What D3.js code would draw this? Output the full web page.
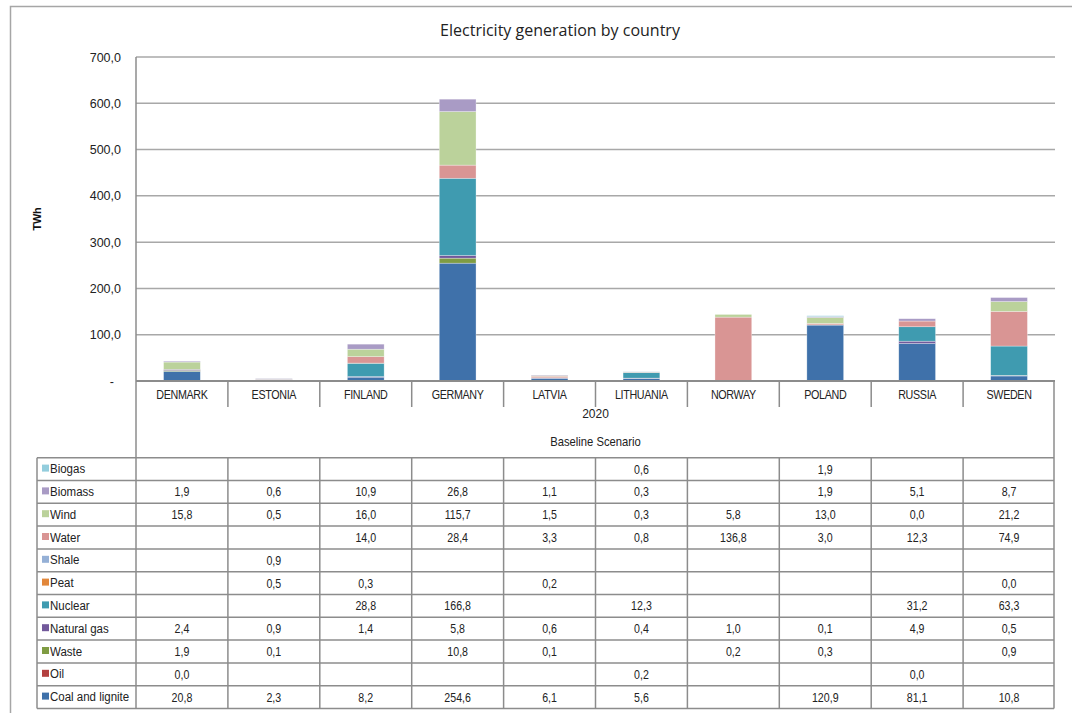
<!DOCTYPE html>
<html><head><meta charset="utf-8">
<script src="https://cdn.jsdelivr.net/npm/d3@7"></script>
<style>body{margin:0;background:#fff}svg{display:block}</style>
</head><body><svg id="c" width="1072" height="713"></svg>
<script>
const countries = ["DENMARK","ESTONIA","FINLAND","GERMANY","LATVIA","LITHUANIA","NORWAY","POLAND","RUSSIA","SWEDEN"];
// table order (top to bottom); stacking is bottom-up in reverse
const sources = ["Biogas","Biomass","Wind","Water","Shale","Peat","Nuclear","Natural gas","Waste","Oil","Coal and lignite"];
const colors = ["#93CDDD","#A99BC5","#BBD29B","#D99594","#95B0D6","#E2873A","#3F9BB0","#72599B","#7F9C43","#B3403F","#3F71AA"];
// null = empty cell
const biogas   = [null,null,null,null,null,0.6,null,1.9,null,null];
const biomass  = [1.9,0.6,10.9,26.8,1.1,0.3,null,1.9,5.1,8.7];
const wind     = [15.8,0.5,16.0,115.7,1.5,0.3,5.8,13.0,0.0,21.2];
const water    = [null,null,14.0,28.4,3.3,0.8,136.8,3.0,12.3,74.9];
const shale    = [null,0.9,null,null,null,null,null,null,null,null];
const peat     = [null,0.5,0.3,null,0.2,null,null,null,null,0.0];
const nuclear  = [null,null,28.8,166.8,null,12.3,null,null,31.2,63.3];
const natgas   = [2.4,0.9,1.4,5.8,0.6,0.4,1.0,0.1,4.9,0.5];
const waste    = [1.9,0.1,null,10.8,0.1,null,0.2,0.3,null,0.9];
const oil      = [0.0,null,null,null,null,0.2,null,null,0.0,null];
const coal     = [20.8,2.3,8.2,254.6,6.1,5.6,null,120.9,81.1,10.8];
const seriesValues = [biogas,biomass,wind,water,shale,peat,nuclear,natgas,waste,oil,coal];
const yTicks = [0,100,200,300,400,500,600,700];
const title = "Electricity generation by country";
const yLabel = "TWh";
const yearLabel = "2020";
const scenarioLabel = "Baseline Scenario";

const svg = d3.select("#c");
const L = 136, R = 1055, T = 57, B = 381;
const fmt = v => v.toFixed(1).replace(".", ",");
const font = "'Liberation Sans', Arial, sans-serif";

// outer border (clipped at right/bottom like reference)
svg.append("rect").attr("x",10.5).attr("y",6.5).attr("width",1080).attr("height",720)
  .attr("fill","none").attr("stroke","#a6a6a6").attr("stroke-width",1.5);

const x = d3.scaleBand().domain(countries).range([L,R]).paddingInner(0.6).paddingOuter(0.3);
const y = d3.scaleLinear().domain([0,700]).range([B,T]);

// gridlines
svg.append("g").selectAll("line").data(yTicks.filter(t=>t>0)).join("line")
  .attr("x1",L).attr("x2",R).attr("y1",d=>y(d)).attr("y2",d=>y(d))
  .attr("stroke","#a8a8a8").attr("stroke-width",1.5);

// y axis labels
const yAxis = d3.axisLeft(y).tickValues(yTicks).tickSize(0).tickPadding(15)
  .tickFormat(d => d===0 ? "-" : fmt(d));
const ya = svg.append("g").attr("transform",`translate(${L},0)`).call(yAxis);
ya.select(".domain").remove();
ya.selectAll("text").attr("font-family",font).attr("font-size",12.5).attr("fill","#222");
ya.selectAll(".tick").filter(d=>d===0).select("text").attr("dx",-7);

// stacked bars
const stackKeys = sources.slice().reverse();
const rows = countries.map((c,i)=>{
  const o = {country:c};
  sources.forEach((s,j)=>{ o[s] = seriesValues[j][i] || 0; });
  return o;
});
const stack = d3.stack().keys(stackKeys)(rows);
const colorOf = d3.scaleOrdinal().domain(sources).range(colors);
svg.append("g").selectAll("g").data(stack).join("g")
  .attr("fill",d=>colorOf(d.key))
  .selectAll("rect").data(d=>d).join("rect")
  .attr("x",d=>x(d.data.country)).attr("width",x.bandwidth())
  .attr("y",d=>y(d[1])).attr("height",d=>Math.max(0,y(d[0])-y(d[1])))
  .attr("stroke","#fff").attr("stroke-opacity",0.5).attr("stroke-width",0.6);

// axis frame
svg.append("line").attr("x1",L).attr("x2",L).attr("y1",T).attr("y2",B).attr("stroke","#8c8c8c").attr("stroke-width",1.5);

// title
svg.append("text").attr("x",560).attr("y",36).attr("text-anchor","middle")
  .attr("font-family","'Open Sans', sans-serif").attr("font-size",16).attr("fill","#222").text(title);
// y label
svg.append("text").attr("transform","translate(41,219) rotate(-90)").attr("text-anchor","middle")
  .attr("font-family",font).attr("font-size",11).attr("font-weight","bold").attr("letter-spacing",-0.3).attr("fill","#111").text(yLabel);

// table
const tbl = svg.append("g");
const gray = "#8c8c8c";
const TL = 37, rowTop = 457.7, rowH = 22.8;
const step = x.step();
const colLeft = c => x(c) - x.paddingInner()*step/2;
const sq = (sel, cx, cy, s) => sel.attr("transform",`translate(${cx},${cy}) scale(${s},1)`);
// header area
tbl.append("line").attr("x1",L).attr("x2",R).attr("y1",B).attr("y2",B).attr("stroke",gray).attr("stroke-width",2);
countries.forEach((c,i)=>{
  if(i>0) tbl.append("line").attr("x1",colLeft(c)).attr("x2",colLeft(c)).attr("y1",B).attr("y2",407).attr("stroke",gray).attr("stroke-width",1.5);
  sq(tbl.append("text"), x(c)+x.bandwidth()/2, 398.5, 0.86).attr("text-anchor","middle")
    .attr("font-family",font).attr("font-size",12.5).attr("letter-spacing",-0.4).attr("fill","#222").text(c);
});
tbl.append("line").attr("x1",L).attr("x2",L).attr("y1",B).attr("y2",rowTop).attr("stroke",gray).attr("stroke-width",1.5);
tbl.append("line").attr("x1",R-1).attr("x2",R-1).attr("y1",B).attr("y2",rowTop+rowH*11).attr("stroke",gray).attr("stroke-width",1.5);
tbl.append("text").attr("x",(L+R)/2).attr("y",418).attr("text-anchor","middle")
  .attr("font-family",font).attr("font-size",12).attr("fill","#222").text(yearLabel);
sq(tbl.append("text"), (L+R)/2, 445.5, 0.9).attr("text-anchor","middle")
  .attr("font-family",font).attr("font-size",12.5).attr("fill","#222").text(scenarioLabel);

// data rows
for(let r=0;r<=sources.length;r++){
  tbl.append("line").attr("x1",TL).attr("x2",R-1).attr("y1",rowTop+r*rowH).attr("y2",rowTop+r*rowH).attr("stroke",gray).attr("stroke-width",1.5);
}
tbl.append("line").attr("x1",TL).attr("x2",TL).attr("y1",rowTop).attr("y2",rowTop+rowH*11).attr("stroke",gray).attr("stroke-width",1.5);
countries.forEach(c=>{
  tbl.append("line").attr("x1",colLeft(c)).attr("x2",colLeft(c)).attr("y1",rowTop).attr("y2",rowTop+rowH*11).attr("stroke",gray).attr("stroke-width",1.5);
});
sources.forEach((s,r)=>{
  const cy = rowTop + r*rowH + rowH/2;
  tbl.append("rect").attr("x",42).attr("y",cy-4.5).attr("width",7).attr("height",7).attr("fill",colorOf(s));
  sq(tbl.append("text"), 50, cy+4, 0.92).attr("font-family",font).attr("font-size",12.5)
    .attr("fill","#222").text(s);
  seriesValues[r].forEach((v,i)=>{
    if(v===null) return;
    sq(tbl.append("text"), x(countries[i])+x.bandwidth()/2, cy+4.5, 0.85).attr("text-anchor","middle")
      .attr("font-family",font).attr("font-size",12.5).attr("fill","#222").text(fmt(v));
  });
});
</script></body></html>
